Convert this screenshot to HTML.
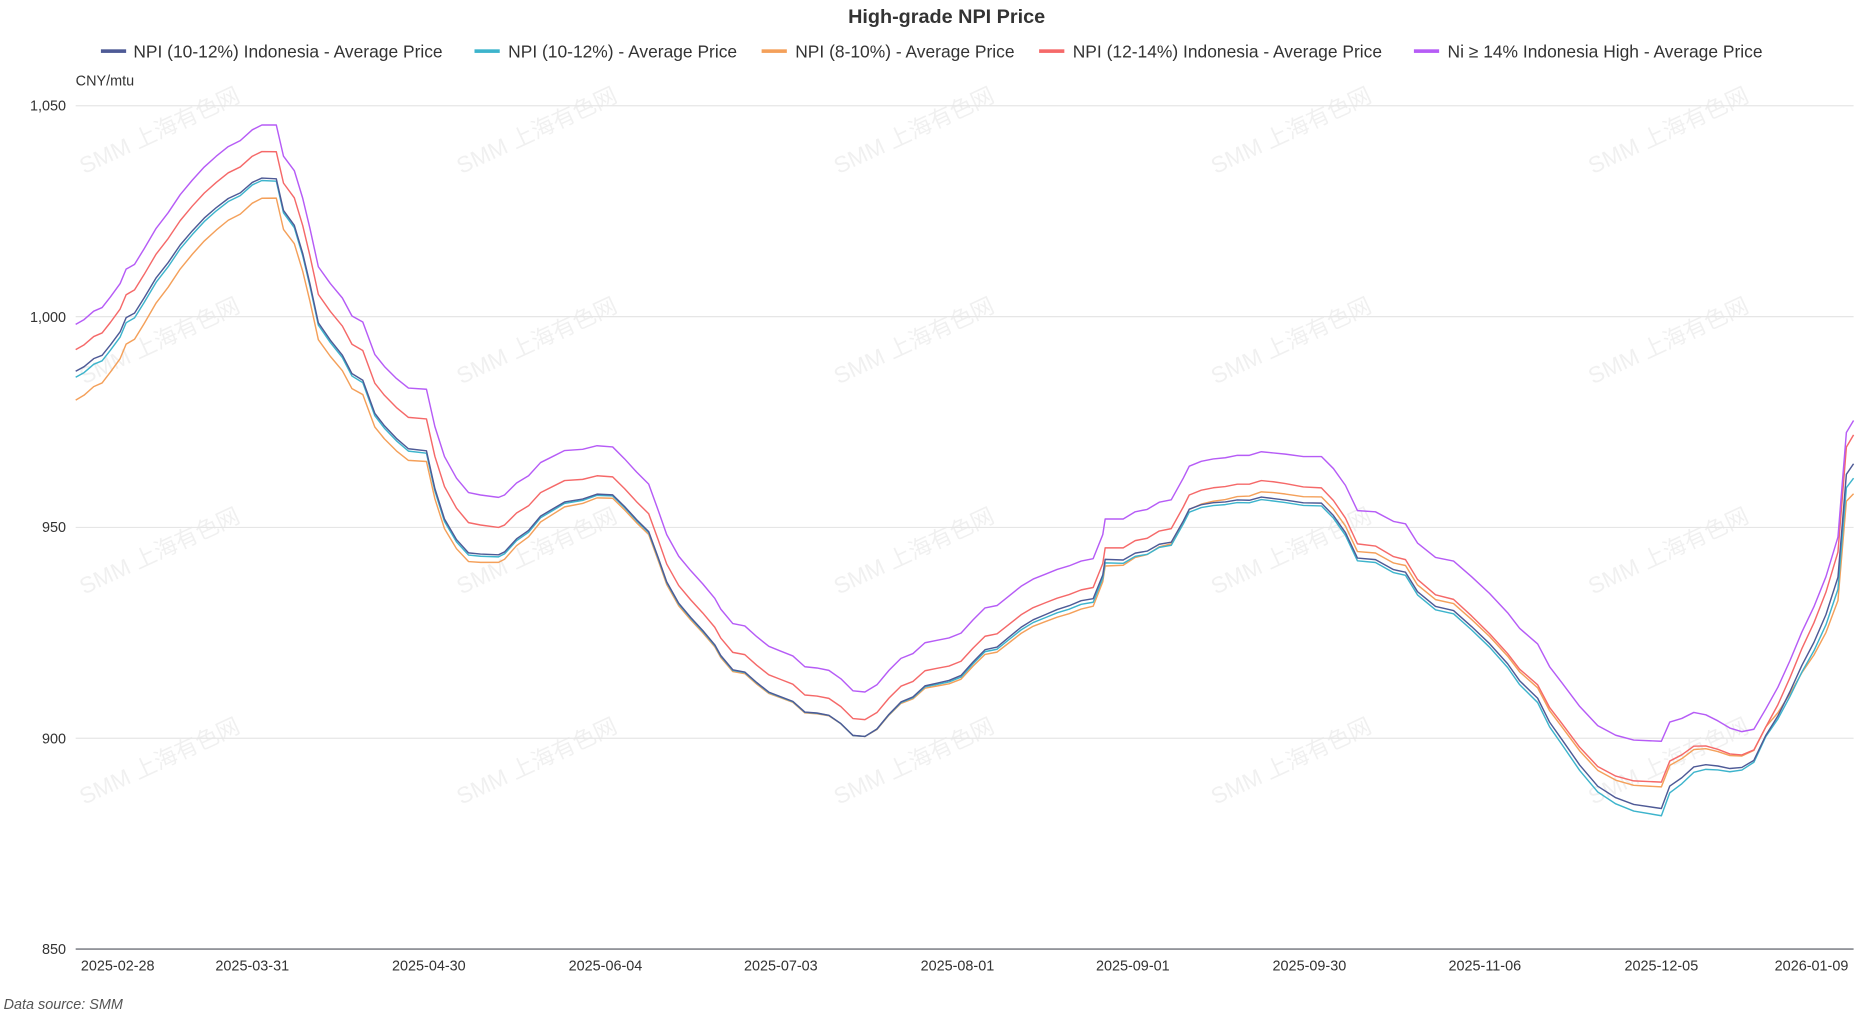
<!DOCTYPE html>
<html><head><meta charset="utf-8"><style>
html,body{margin:0;padding:0;background:#fff;}
svg{display:block;font-family:"Liberation Sans","Noto Sans CJK SC",sans-serif;}
</style></head><body>
<svg id="c" width="1874" height="1014" viewBox="0 0 1560 844" xmlns="http://www.w3.org/2000/svg">
<g id="wm" fill="#000" fill-opacity="0.06" font-size="19"></g>
<text x="788" y="19" text-anchor="middle" font-size="16.5" font-weight="bold" fill="#333">High-grade NPI Price</text>
<g font-size="14.5" fill="#333">
<rect x="84" y="41" width="21" height="3" fill="#4e5a96"/><text x="111" y="48">NPI (10-12%) Indonesia - Average Price</text>
<rect x="395" y="41" width="21" height="3" fill="#3db4cc"/><text x="423" y="48">NPI (10-12%) - Average Price</text>
<rect x="634" y="41" width="21" height="3" fill="#f4a05a"/><text x="662" y="48">NPI (8-10%) - Average Price</text>
<rect x="865" y="41" width="21" height="3" fill="#f56969"/><text x="893" y="48">NPI (12-14%) Indonesia - Average Price</text>
<rect x="1177" y="41" width="21" height="3" fill="#b65cf6"/><text x="1205" y="48">Ni ≥ 14% Indonesia High - Average Price</text>
</g>
<text x="63" y="71" font-size="12" fill="#333">CNY/mtu</text>
<g stroke="#e6e6e6" stroke-width="1">
<line x1="63" y1="88" x2="1543" y2="88"/><line x1="63" y1="263.5" x2="1543" y2="263.5"/>
<line x1="63" y1="439" x2="1543" y2="439"/><line x1="63" y1="614.5" x2="1543" y2="614.5"/>
</g>
<line x1="63" y1="790" x2="1543" y2="790" stroke="#6e7079" stroke-width="1.2"/>
<g font-size="12" fill="#333" text-anchor="end">
<text x="55" y="92">1,050</text><text x="55" y="268">1,000</text><text x="55" y="443">950</text><text x="55" y="619">900</text><text x="55" y="794">850</text>
</g>
<g font-size="12" fill="#333" text-anchor="middle">
<text x="98" y="808">2025-02-28</text><text x="210" y="808">2025-03-31</text><text x="357" y="808">2025-04-30</text><text x="504" y="808">2025-06-04</text><text x="650" y="808">2025-07-03</text><text x="797" y="808">2025-08-01</text><text x="943" y="808">2025-09-01</text><text x="1090" y="808">2025-09-30</text><text x="1236" y="808">2025-11-06</text><text x="1383" y="808">2025-12-05</text><text x="1508" y="808">2026-01-09</text>
</g>
<text x="3" y="840" font-size="12" font-style="italic" fill="#555">Data source:  SMM</text>
<g id="lines" fill="none" stroke-width="1.2" stroke-linejoin="round"></g>
</svg>
<script>
var P=[[63,270],[70,266],[78,259],[85,256],[92,247],[100,236],[105,224],[112,220],[120,207],[130,190],[140,177],[150,162],[160,150],[170,139],[180,130],[190,122],[200,117],[210,108],[218,104],[230,104],[236,130],[245,142],[252,165],[258,190],[265,222],[275,236],[285,248],[293,263],[302,268],[312,295],[320,305],[330,315],[340,323],[355,324],[362,355],[370,380],[380,398],[390,410],[400,412],[415,414],[420,412],[430,402],[440,396],[450,385],[460,380],[470,375],[485,374],[497,371],[510,372],[520,382],[530,393],[540,403],[548,425],[555,445],[565,463],[575,475],[585,486],[595,498],[600,507],[610,519],[620,521],[630,530],[640,538],[650,542],[660,546],[670,555],[680,556],[690,558],[700,565],[710,575],[720,576],[730,570],[740,558],[750,548],[760,544],[770,535],[780,533],[790,531],[800,527],[810,516],[820,506],[830,504],[840,496],[850,488],[860,482],[870,478],[880,474],[890,471],[900,467],[910,465],[918,445],[920,432],[935,432],[945,426],[955,424],[965,418],[975,416],[985,398],[990,388],[1000,384],[1010,382],[1020,381],[1030,379],[1040,379],[1050,376],[1060,377],[1070,378],[1085,380],[1100,380],[1110,390],[1120,404],[1130,425],[1145,426],[1160,434],[1170,436],[1180,452],[1195,464],[1210,467],[1225,480],[1240,494],[1255,510],[1265,523],[1280,536],[1290,555],[1300,568],[1315,588],[1330,604],[1345,612],[1360,616],[1383,617],[1390,601],[1400,598],[1410,593],[1420,595],[1430,600],[1440,606],[1450,609],[1460,607],[1470,590],[1480,572],[1490,550],[1500,526],[1510,505],[1520,480],[1530,447],[1537,360],[1543,350]];
var O=[[63,21,39,44,63],[215,22,44,46,61],[370,25,52,54,60],[500,25,40,41,43],[720,23,37,37,37],[900,24,33,36,40],[1060,24,38,40,33],[1250,34,42,45,36],[1383,34,56,62,38],[1470,15,22,23,15],[1543,12,36,48,61]];
function off(x,k){for(var i=0;i<O.length-1;i++){if(x<=O[i+1][0]){var t=(x-O[i][0])/(O[i+1][0]-O[i][0]);return O[i][k]+t*(O[i+1][k]-O[i][k]);}}return O[O.length-1][k];}
var S=[[3,"#f4a05a"],[2,"#3db4cc"],[1,"#f56969"],[2.05,"#4e5a96"],[0,"#b65cf6"]];
var g=document.getElementById('lines'),h='';
var idx={3:4,2:3,1:1,2.05:2,0:0};
S.forEach(function(s){var k=idx[s[0]];var d=P.map(function(p,i){var y=p[1]+(k?off(p[0],k):0);return (i?'L':'M')+p[0]+','+y.toFixed(1);}).join('');h+='<path d="'+d+'" stroke="'+s[1]+'"/>';});
g.innerHTML=h;
var w='';for(var r=0;r<4;r++)for(var c=0;c<5;c++){var x=70+c*314,y=145+r*175;w+='<text x="'+x+'" y="'+y+'" transform="rotate(-25 '+x+' '+y+')">SMM 上海有色网</text>';}
document.getElementById('wm').innerHTML=w;
</script>
</body></html>
